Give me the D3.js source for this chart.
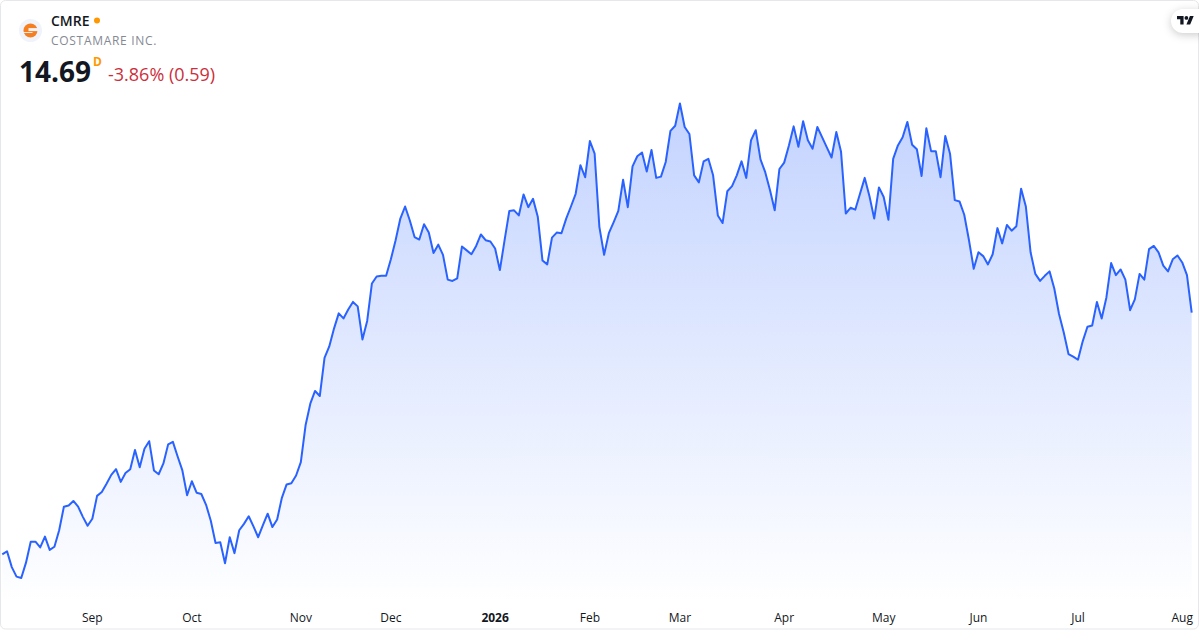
<!DOCTYPE html>
<html>
<head>
<meta charset="utf-8">
<script src="https://cdn.jsdelivr.net/npm/d3@7"></script>
<style>
  html, body { margin: 0; padding: 0; background: #fff; }
  svg { display: block; }
  text { font-family: "Open Sans", "Noto Sans", sans-serif; }
</style>
</head>
<body>
<script>
// Daily closes
var closes = [
  10.89,10.94,10.69,10.54,10.52,10.76,11.09,11.09,11.00,11.17,10.96,11.01,11.27,11.64,11.66,11.73,
  11.64,11.48,11.34,11.45,11.81,11.87,12.00,12.14,12.23,12.03,12.17,12.23,12.53,12.26,12.55,12.67,
  12.21,12.15,12.32,12.62,12.66,12.43,12.21,11.82,12.04,11.86,11.84,11.67,11.42,11.07,11.08,10.75,
  11.16,10.91,11.27,11.37,11.49,11.33,11.16,11.35,11.53,11.32,11.44,11.78,11.99,12.01,12.13,12.34,
  12.92,13.26,13.46,13.38,13.98,14.16,14.44,14.68,14.60,14.74,14.86,14.79,14.27,14.56,15.15,15.26,
  15.27,15.27,15.53,15.83,16.17,16.36,16.14,15.88,15.84,16.08,15.95,15.63,15.76,15.60,15.21,15.19,
  15.23,15.73,15.67,15.61,15.74,15.92,15.83,15.81,15.70,15.36,15.83,16.29,16.30,16.22,16.55,16.35,
  16.48,16.20,15.51,15.45,15.87,15.95,15.94,16.17,16.36,16.56,17.01,16.82,17.39,17.19,16.04,15.60,
  15.94,16.11,16.29,16.78,16.35,16.99,17.15,17.21,16.91,17.25,16.81,16.83,17.06,17.55,17.63,17.98,
  17.61,17.50,16.85,16.74,17.07,17.11,16.85,16.22,16.10,16.60,16.68,16.85,17.07,16.81,17.40,17.56,
  17.10,16.90,16.62,16.30,16.95,17.05,17.32,17.62,17.30,17.70,17.40,17.27,17.61,17.45,17.29,17.13,
  17.53,17.22,16.25,16.34,16.31,16.56,16.81,16.52,16.17,16.66,16.51,16.15,17.11,17.32,17.45,17.69,
  17.33,17.26,16.84,17.59,17.23,17.23,16.82,17.47,17.19,16.46,16.44,16.23,15.83,15.38,15.64,15.58,
  15.45,15.61,16.02,15.78,16.07,15.98,16.05,16.64,16.36,15.64,15.30,15.19,15.27,15.34,15.07,14.67,
  14.38,14.04,14.00,13.95,14.24,14.47,14.49,14.86,14.60,14.93,15.47,15.28,15.37,15.21,14.73,14.90,
  15.30,15.21,15.69,15.74,15.64,15.43,15.34,15.53,15.59,15.48,15.28,14.69
];

// Bars where each month starts
var tickLabels = ["Sep", "Oct", "Nov", "Dec", "2026", "Feb", "Mar", "Apr", "May", "Jun", "Jul", "Aug"];
var tickBars = [19, 40, 63, 82, 104, 124, 143, 165, 186, 206, 227, 249];

var width = 1200, height = 630;
var lineColor = "#2962ff";

var x = d3.scaleLinear().domain([0, closes.length - 1]).range([2.3, 1191.7]);
var y = d3.scaleLinear().domain([10, 20]).range([611, -25]);

var svg = d3.select("body").append("svg").attr("width", width).attr("height", height);

// Gradient under the line
var grad = svg.append("defs").append("linearGradient")
    .attr("id", "areaFill")
    .attr("gradientUnits", "userSpaceOnUse")
    .attr("x1", 0).attr("x2", 0).attr("y1", 102).attr("y2", 603);
grad.append("stop").attr("offset", 0).attr("stop-color", lineColor).attr("stop-opacity", 0.28);
grad.append("stop").attr("offset", 1).attr("stop-color", lineColor).attr("stop-opacity", 0);

var area = d3.area()
    .x(function(d, i) { return x(i); })
    .y0(603)
    .y1(function(d) { return y(d); });
var line = d3.line()
    .x(function(d, i) { return x(i); })
    .y(function(d) { return y(d); });

svg.append("path").datum(closes).attr("d", area).style("fill", "url(#areaFill)");
svg.append("path").datum(closes).attr("d", line)
    .style("fill", "none")
    .style("stroke", lineColor)
    .style("stroke-width", 2)
    .style("stroke-linejoin", "round");

// Time axis
var axis = d3.axisBottom(x)
    .tickValues(tickBars)
    .tickSize(0)
    .tickPadding(0)
    .tickFormat(function(d, i) { return tickLabels[i]; });
var axisG = svg.append("g").attr("transform", "translate(-0.5,613)").call(axis);
axisG.select(".domain").remove();
axisG.selectAll("text")
    .style("font-family", '"Open Sans", sans-serif')
    .style("font-size", "12px")
    .style("fill", "#131722")
    .style("font-weight", function(d, i) { return tickLabels[i] === "2026" ? 700 : 400; });

// Outer border
svg.append("rect")
    .attr("x", 0.5).attr("y", 0.5).attr("width", 1198).attr("height", 628.5).attr("rx", 5)
    .style("fill", "none").style("stroke", "#e6e7ea");

// Symbol logo
var logo = svg.append("g").attr("transform", "translate(30.5,30.5)");
logo.append("circle").attr("r", 11.5).style("fill", "#f0f3fa");
logo.append("circle").attr("r", 7).style("fill", "#f57f20");
logo.append("rect").attr("x", -2).attr("y", -2.4).attr("width", 10).attr("height", 3).style("fill", "#f0f3fa");
logo.append("rect").attr("x", -8).attr("y", 1.6).attr("width", 10).attr("height", 0.9).style("fill", "#f0f3fa");

// Header texts
svg.append("text").attr("x", 51).attr("y", 26).text("CMRE")
    .style("font-size", "14px").style("font-weight", 600).style("fill", "#131722");
svg.append("circle").attr("cx", 97).attr("cy", 20.5).attr("r", 3).style("fill", "#ff9800");
svg.append("text").attr("x", 51).attr("y", 45).text("COSTAMARE INC.")
    .style("font-size", "12px").style("letter-spacing", "0.7px").style("fill", "#868993");
svg.append("text").attr("x", 19).attr("y", 81.5).text("14.69")
    .style("font-size", "28px").style("font-weight", 700).style("fill", "#131722");
svg.append("text").attr("x", 93).attr("y", 66).text("D")
    .style("font-size", "12px").style("font-weight", 700).style("fill", "#ff9800");
svg.append("text").attr("x", 108).attr("y", 81).text("-3.86% (0.59)")
    .style("font-size", "18px").style("fill", "#cc2f3c");

// TradingView badge
var badge = svg.append("g");
badge.append("rect")
    .attr("x", 1171).attr("y", 9).attr("width", 40).attr("height", 24).attr("rx", 12)
    .style("fill", "#fff")
    .style("filter", "drop-shadow(0 2px 4px rgba(0,0,0,0.2))");
var tv = badge.append("g").attr("transform", "translate(1177,14.2) scale(0.47)");
tv.append("path").attr("d", "M14 22H7V11H0V4h14v18zM28 22h-8l7.5-18h8L28 22z").style("fill", "#131722");
tv.append("circle").attr("cx", 20).attr("cy", 8).attr("r", 4).style("fill", "#131722");
// strip to the right of the card
svg.append("rect").attr("x", 1199).attr("y", 0).attr("width", 1).attr("height", height).style("fill", "#fff");
</script>
</body>
</html>
